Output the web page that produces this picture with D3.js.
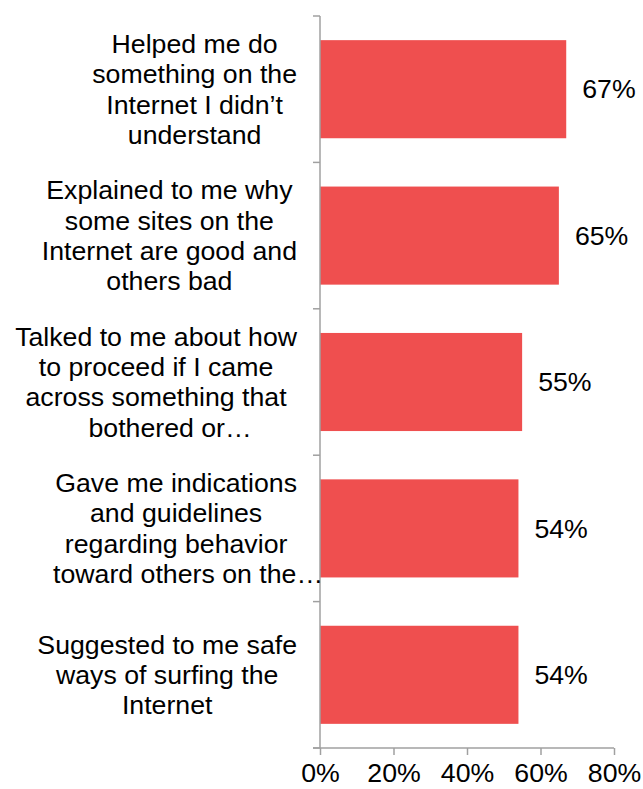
<!DOCTYPE html>
<html>
<head>
<meta charset="utf-8">
<script src="https://cdn.jsdelivr.net/npm/d3@7"></script>
<style>
  html, body { margin: 0; padding: 0; background: #fff; }
  svg { display: block; font-family: "Liberation Sans", Arial, sans-serif; }
</style>
</head>
<body>
<svg id="chart" width="643" height="789"></svg>
<script>
const categories = [
  ["Helped me do", "something on the", "Internet I didn\u2019t", "understand"],
  ["Explained to me why", "some sites on the", "Internet are good and", "others bad"],
  ["Talked to me about how", "to proceed if I came", "across something that", "bothered or\u2026"],
  ["Gave me indications", "and guidelines", "regarding behavior", "toward others on the\u2026"],
  ["Suggested to me safe", "ways of surfing the", "Internet"]
];
const values = [67, 65, 55, 54, 54];
const tickValues = [0, 20, 40, 60, 80];

const W = 643, H = 789;
const m = { left: 320, right: 29, top: 16, bottom: 41 };
const fs = 26.7;
const lineH = 30.4;
const capHalf = 9.2;
const axisColor = "#a0a0a0";
const barColor = "#ef4f4f";

const svg = d3.select("#chart");
const x = d3.scaleLinear().domain([0, 80]).range([m.left, m.left + 294]);
const y = d3.scaleBand().domain(d3.range(categories.length))
  .range([m.top, H - m.bottom]).paddingInner(0.33).paddingOuter(0.165);

// bars
svg.append("g").selectAll("rect").data(values).join("rect")
  .attr("x", x(0))
  .attr("y", (d, i) => y(i))
  .attr("width", d => x(d) - x(0))
  .attr("height", y.bandwidth())
  .attr("fill", barColor);

// value labels
svg.append("g").selectAll("text").data(values).join("text")
  .attr("x", d => x(d) + 16)
  .attr("y", (d, i) => y(i) + y.bandwidth() / 2 + capHalf)
  .attr("font-size", fs)
  .attr("fill", "#000")
  .text(d => d + "%");

// y axis line with ticks at category boundaries
const yAxisG = svg.append("g").attr("stroke", axisColor).attr("stroke-width", 1.5);
const bounds = d3.range(categories.length + 1).map(i => m.top + i * (H - m.bottom - m.top) / categories.length);
yAxisG.append("line").attr("x1", x(0)).attr("x2", x(0)).attr("y1", bounds[0]).attr("y2", H - m.bottom);
yAxisG.selectAll("line.t").data(bounds).join("line").attr("class", "t")
  .attr("x1", x(0) - 7).attr("x2", x(0)).attr("y1", d => d).attr("y2", d => d);

// x axis
const xAxis = d3.axisBottom(x).tickValues(tickValues).tickFormat(d => d + "%").tickSize(7).tickSizeOuter(0);
const xg = svg.append("g").attr("transform", `translate(0,${H - m.bottom})`).call(xAxis);
xg.select(".domain").attr("stroke", axisColor).attr("stroke-width", 1.5)
  .attr("d", `M${x(0) - 7},0H${x(80)}`);
xg.selectAll(".tick line").attr("stroke", axisColor).attr("stroke-width", 1.5);
xg.selectAll(".tick text").attr("font-size", fs).attr("fill", "#000")
  .attr("font-family", "Liberation Sans, Arial, sans-serif")
  .attr("dy", null).attr("y", 34);

// category labels: centered within a right-aligned box
const boxRight = 297;
const ellipsisShift = [0, 0, 14, 12, 0];
const lg = svg.append("g").attr("font-size", fs).attr("fill", "#000");
categories.forEach((lines, i) => {
  const g = lg.append("g");
  const n = lines.length;
  const cy = y(i) + y.bandwidth() / 2;
  const texts = lines.map((t, j) => g.append("text")
    .attr("y", cy + (j - (n - 1) / 2) * lineH + capHalf)
    .attr("text-anchor", "middle")
    .text(t));
  const widths = texts.map((t, j) => lines[j].endsWith("\u2026") ? 0 : t.node().getComputedTextLength());
  const bw = d3.max(widths);
  const cx = boxRight - bw / 2;
  texts.forEach((t, j) => t.attr("x", cx + (lines[j].endsWith("\u2026") ? ellipsisShift[i] : 0)));
});
</script>
</body>
</html>
